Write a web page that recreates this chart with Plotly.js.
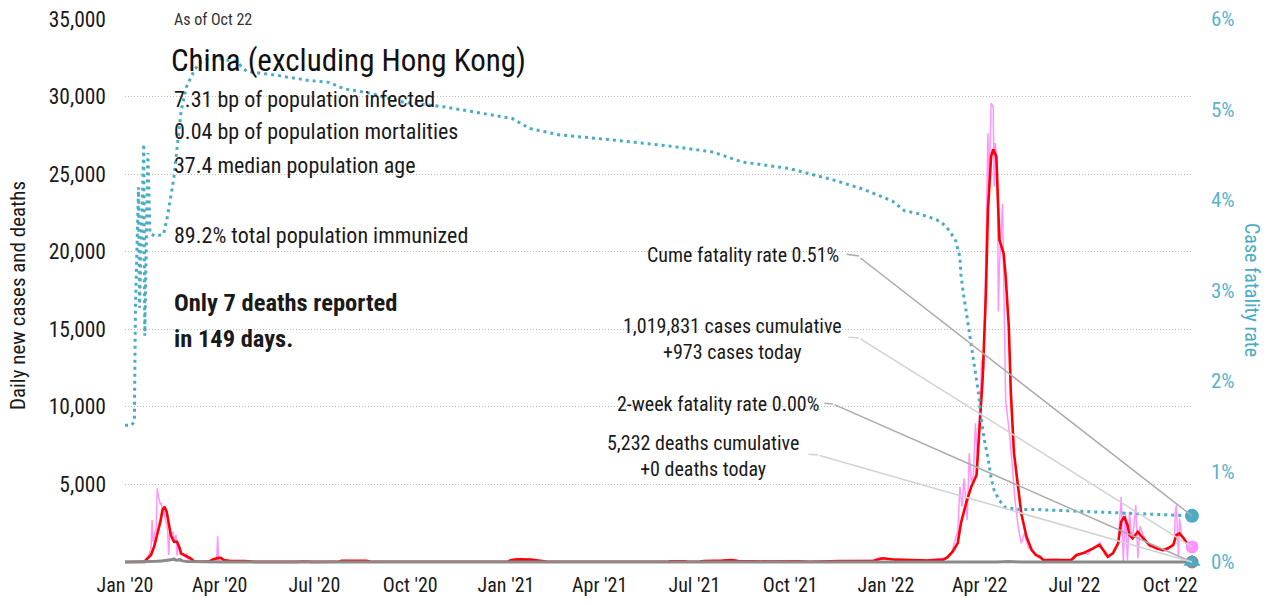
<!DOCTYPE html>
<html><head><meta charset="utf-8">
<script src="https://cdn.plot.ly/plotly-3.0.1.min.js"></script>
<style>html,body{margin:0;padding:0;background:#fff;}#chart{width:1271px;height:605px;}</style>
</head><body><div id="chart"></div>
<script>
// ---------------- DATA ----------------
const endDate = '2022-10-22';
const cumeCfrPct = 0.51;
const twoWeekCfrPct = 0.00;
const casesToday = 973;
const deathsToday = 0;
const cumulativeCases = 1019831;
const cumulativeDeaths = 5232;
const infectedBp = 7.31, mortalityBp = 0.04, medianAge = 37.4, immunizedPct = 89.2;
const recentDeaths = 7, recentDays = 149;

const yTickVals = [5000, 10000, 15000, 20000, 25000, 30000, 35000];
const y2TickVals = [0, 1, 2, 3, 4, 5, 6];
const y2TickText = ['0%', '1%', '2%', '3%', '4%', '5%', '6%'];

// daily new cases (raw)
const caseDates = ['2020-01-01','2020-01-18','2020-01-19','2020-01-20','2020-01-21','2020-01-22','2020-01-23','2020-01-24','2020-01-25','2020-01-26','2020-01-27','2020-01-28','2020-01-29','2020-01-30','2020-01-31',
'2020-02-01','2020-02-02','2020-02-03','2020-02-04','2020-02-05','2020-02-06','2020-02-07','2020-02-08','2020-02-09','2020-02-10','2020-02-11','2020-02-12','2020-02-13','2020-02-14','2020-02-15','2020-02-16','2020-02-17','2020-02-18','2020-02-19','2020-02-20','2020-02-21','2020-02-22','2020-02-23','2020-02-24','2020-02-25','2020-02-26','2020-02-27','2020-02-28','2020-02-29',
'2020-03-01','2020-03-02','2020-03-03','2020-03-04','2020-03-05','2020-03-06','2020-03-07','2020-03-08','2020-03-10','2020-03-14','2020-03-20','2020-03-24','2020-03-28','2020-03-29','2020-03-30','2020-03-31','2020-04-04','2020-04-10','2020-04-12','2020-04-20','2020-05-05',
'2020-06-14','2020-06-18','2020-06-22','2020-06-28','2020-07-24','2020-07-30','2020-08-05','2020-08-20','2020-08-25','2020-10-22','2020-10-26','2020-11-08','2020-11-16',
'2021-01-03','2021-01-07','2021-01-11','2021-01-16','2021-01-22','2021-01-28','2021-02-05','2021-02-10','2021-06-05','2021-06-10','2021-06-22','2021-06-26','2021-07-08','2021-07-20','2021-07-31','2021-08-06','2021-08-14','2021-08-28','2021-09-12','2021-10-08','2021-10-20','2021-11-05','2021-11-18','2021-12-08','2021-12-20','2021-12-26','2021-12-30','2022-01-08','2022-01-20','2022-02-10','2022-02-20','2022-02-28',
'2022-03-03','2022-03-05','2022-03-08','2022-03-11','2022-03-13','2022-03-15','2022-03-17','2022-03-20','2022-03-22','2022-03-24','2022-03-26','2022-03-28','2022-03-30','2022-04-01','2022-04-03','2022-04-05','2022-04-07','2022-04-09','2022-04-10','2022-04-12','2022-04-14','2022-04-15','2022-04-16','2022-04-18','2022-04-19','2022-04-20','2022-04-23','2022-04-24','2022-04-26','2022-04-30','2022-05-03','2022-05-05','2022-05-08','2022-05-11','2022-05-14','2022-05-18','2022-05-22','2022-05-27','2022-06-02','2022-06-12','2022-06-22','2022-06-30',
'2022-07-04','2022-07-09','2022-07-14','2022-07-19','2022-07-23','2022-07-26','2022-07-30','2022-08-03','2022-08-07','2022-08-10','2022-08-12','2022-08-14','2022-08-15','2022-08-17','2022-08-19','2022-08-21','2022-08-23','2022-08-25','2022-08-27','2022-08-29','2022-08-31','2022-09-02','2022-09-06','2022-09-11','2022-09-16','2022-09-21','2022-09-26','2022-09-30','2022-10-03','2022-10-05','2022-10-06','2022-10-07','2022-10-09','2022-10-10','2022-10-12','2022-10-15','2022-10-18','2022-10-20','2022-10-22'];
const caseDaily = [0,0,20,80,150,130,260,450,690,800,2700,1300,1600,2000,2100,
4750,4300,3900,3700,3800,3100,3400,3000,2600,2500,2000,450,2000,1900,1800,1950,1700,1300,1750,400,1250,650,450,550,500,420,430,330,570,
210,200,120,140,140,100,45,40,25,15,40,80,60,45,1650,80,30,90,100,20,10,
10,45,30,10,20,90,80,70,15,15,55,45,15,
30,150,240,190,160,140,60,15,20,55,45,20,30,70,110,130,60,40,30,50,20,40,70,90,120,300,200,160,120,140,200,260,
450,560,1300,2000,4850,3570,5400,2700,7000,5180,5600,8940,6500,9800,13000,12380,19900,27640,23770,29570,29360,24200,27000,25500,16140,19000,23080,18400,10380,8080,5500,4000,2280,1200,1850,900,770,300,150,200,120,150,
450,600,500,900,1100,1250,500,300,600,1000,1100,3780,4200,50,3240,100,3240,1500,2170,3670,250,2300,1600,1000,900,800,700,950,1000,1200,3240,3670,300,2800,1600,1400,1100,1000,973];

// 7-day average of new cases
const avgDates = ['2020-01-01','2020-01-20','2020-01-21','2020-01-26','2020-01-29','2020-02-01','2020-02-04','2020-02-06','2020-02-08','2020-02-10','2020-02-12','2020-02-14','2020-02-17','2020-02-20','2020-02-22','2020-02-24','2020-02-27','2020-03-01','2020-03-04','2020-03-07','2020-03-11','2020-03-22','2020-03-26','2020-03-30','2020-04-02','2020-04-05','2020-04-10','2020-04-25','2020-05-05',
'2020-06-14','2020-06-18','2020-06-22','2020-06-28','2020-07-24','2020-07-27','2020-08-20','2020-08-24','2020-10-22','2020-10-25','2020-11-12','2020-11-16',
'2021-01-03','2021-01-06','2021-01-14','2021-01-25','2021-02-04','2021-02-10','2021-06-05','2021-06-08','2021-06-22','2021-06-25','2021-07-06','2021-07-10','2021-07-28','2021-08-06','2021-08-12','2021-08-28','2021-09-12','2021-10-08','2021-10-20','2021-11-18','2021-12-20','2021-12-29','2022-01-10','2022-02-10','2022-02-25',
'2022-03-01','2022-03-06','2022-03-11','2022-03-14','2022-03-19','2022-03-24','2022-03-29','2022-04-01','2022-04-04','2022-04-07','2022-04-09','2022-04-12','2022-04-14','2022-04-17','2022-04-20','2022-04-24','2022-04-26','2022-04-29','2022-05-01','2022-05-04','2022-05-08','2022-05-11','2022-05-16','2022-05-21','2022-05-25','2022-05-29','2022-06-01','2022-06-28',
'2022-07-03','2022-07-09','2022-07-19','2022-07-25','2022-07-30','2022-08-02','2022-08-07','2022-08-12','2022-08-15','2022-08-18','2022-08-21','2022-08-23','2022-08-26','2022-08-31','2022-09-05','2022-09-11','2022-09-18','2022-09-24','2022-09-29','2022-10-04','2022-10-07','2022-10-10','2022-10-14','2022-10-18','2022-10-22'];
const avgCases = [0,0,130,450,990,1740,2600,3350,3565,3240,2390,1740,1310,1310,990,560,450,340,240,60,20,40,180,250,270,130,80,60,10,
10,40,30,10,20,80,70,15,15,50,45,15,
30,130,170,150,60,15,20,50,45,20,30,60,90,120,60,40,30,50,20,60,80,240,150,100,150,
300,660,1220,2500,3800,4860,5600,8720,11950,17340,22700,26130,26600,26130,20760,19900,18400,15170,10870,7010,4860,3140,1630,770,450,340,130,130,
450,560,880,1100,660,340,560,1200,2600,2920,2390,1740,1530,1950,1530,1100,880,770,880,1100,1740,1850,1530,1100,920];

// daily deaths
const deathDates = ['2020-01-01','2020-01-20','2020-01-25','2020-02-01','2020-02-05','2020-02-10','2020-02-14','2020-02-17','2020-02-19','2020-02-23','2020-02-25','2020-03-01','2020-03-06','2020-03-12','2020-03-20','2020-04-01','2022-04-18','2022-04-22','2022-04-26','2022-04-29','2022-05-04','2022-05-10',endDate];
const deathDaily = [0,0,15,45,70,100,140,200,110,150,70,40,30,10,5,0,0,20,50,40,20,0,deathsToday];

// case fatality rate (%)
const cfrDates = ['2020-01-01','2020-01-07','2020-01-10','2020-01-11','2020-01-14','2020-01-15','2020-01-19','2020-01-20','2020-01-23','2020-01-25','2020-01-30','2020-02-07','2020-02-11','2020-02-13','2020-02-15','2020-02-17','2020-02-19','2020-02-21','2020-02-24','2020-02-29','2020-03-07','2020-03-12','2020-03-19','2020-04-01','2020-04-17','2020-04-27','2020-05-10','2020-05-24','2020-06-26','2020-07-15','2020-07-29','2020-08-23','2020-09-25','2020-11-02','2020-12-08',
'2021-01-07','2021-01-24','2021-02-21','2021-04-17','2021-06-11','2021-07-19','2021-08-16','2021-09-29','2021-11-12','2021-12-10','2021-12-29','2022-01-07','2022-01-19','2022-02-01','2022-02-12','2022-02-23','2022-03-03','2022-03-09','2022-03-13','2022-03-14','2022-03-16','2022-03-19','2022-03-21','2022-03-24','2022-03-27','2022-03-31','2022-04-02','2022-04-05','2022-04-09','2022-04-12','2022-04-15','2022-04-20','2022-04-26','2022-05-09','2022-05-25','2022-08-03','2022-09-05','2022-10-08',endDate];
const cfrPct = [1.51,1.51,1.55,2.80,4.14,2.81,4.62,2.50,4.52,3.63,3.60,3.62,3.83,3.96,4.11,4.25,4.47,4.66,4.99,5.25,5.42,5.51,5.55,5.56,5.53,5.42,5.40,5.38,5.32,5.30,5.23,5.18,5.08,5.03,4.96,
4.90,4.79,4.72,4.66,4.59,4.53,4.42,4.35,4.22,4.12,4.03,3.99,3.88,3.85,3.81,3.76,3.66,3.55,3.37,3.18,3.00,2.78,2.59,2.37,2.15,1.86,1.63,1.38,1.15,0.93,0.79,0.68,0.60,0.58,0.58,0.55,0.53,0.52,cumeCfrPct];

// ---------------- LAYOUT HELPERS ----------------
const FONT = '"Roboto Condensed", Roboto, sans-serif';
const TEAL = '#4aacc5';
const W = 1271, H = 605, ML = 125, MR = 79, MT = 19, MB = 41;
const PW = W - ML - MR, PH = H - MT - MB;
const px = v => (v - ML) / PW;
const py = v => (H - MB - v) / PH;
const fmt = n => n.toLocaleString('en-US');

const traces = [
  {x: caseDates, y: caseDaily, mode: 'lines', line: {color: '#ff94ff', width: 1.5}, hoverinfo: 'skip'},
  {x: avgDates, y: avgCases, mode: 'lines', line: {color: '#ff0000', width: 2.6}, hoverinfo: 'skip'},
  {x: cfrDates, y: cfrPct, yaxis: 'y2', mode: 'lines', line: {color: TEAL, width: 3, dash: '3px,4px'}, hoverinfo: 'skip'},
  {x: deathDates, y: deathDaily, mode: 'lines', line: {color: '#8a8a8a', width: 3}, hoverinfo: 'skip'},
  {x: [endDate], y: [deathsToday], mode: 'markers', marker: {symbol: 'circle', size: 13, color: '#8a8a8a'}, cliponaxis: false, hoverinfo: 'skip'},
  {x: [endDate], y: [casesToday], mode: 'markers', marker: {symbol: 'circle', size: 13, color: '#ff94ff'}, cliponaxis: false, hoverinfo: 'skip'},
  {x: [endDate], y: [cumeCfrPct], yaxis: 'y2', mode: 'markers', marker: {symbol: 'circle', size: 14, color: TEAL}, cliponaxis: false, hoverinfo: 'skip'},
  {x: [endDate], y: [twoWeekCfrPct], yaxis: 'y2', mode: 'markers', marker: {symbol: 'triangle-up', size: 15, color: TEAL}, cliponaxis: false, hoverinfo: 'skip'}
];

const txt = (text, xp, yp, size, opts) => Object.assign({
  text: text, xref: 'paper', yref: 'paper', x: px(xp), y: py(yp), xanchor: 'left', yanchor: 'middle',
  showarrow: false, font: {family: FONT, size: size, color: '#1a1a1a'}
}, opts || {});

// diagonal leader from a kink point to the end marker
const connector = (yref, yval, ax, ay, color) => ({
  text: '', xref: 'x', yref: yref, x: endDate, y: yval, ax: ax, ay: ay,
  showarrow: true, arrowhead: 0, arrowwidth: 1.5, arrowcolor: color, standoff: 0, startstandoff: 0
});
// short near-horizontal stub from the label end to the kink point
const stub = (kx, ky, lx, ly, color) => ({
  text: '', xref: 'paper', yref: 'paper', x: px(kx), y: py(ky), ax: lx - kx, ay: ly - ky,
  showarrow: true, arrowhead: 0, arrowwidth: 1.5, arrowcolor: color, standoff: 0, startstandoff: 0
});

const DARK = '#ababab', LIGHT = '#d2d2d2';
const annotations = [
  txt('As of Oct 22', 172, 19, 16, {font: {family: FONT, size: 16, color: '#333'}}),
  txt(infectedBp.toFixed(2) + ' bp of population infected', 172, 99, 22),
  txt(mortalityBp.toFixed(2) + ' bp of population mortalities', 172, 132, 22),
  txt(medianAge.toFixed(1) + ' median population age', 172, 166, 22),
  txt(immunizedPct.toFixed(1) + '% total population immunized', 172, 236, 22),
  txt('<b>Only ' + recentDeaths + ' deaths reported</b>', 172, 302, 24.5),
  txt('<b>in ' + recentDays + ' days.</b>', 172, 338, 24.5),
  txt('Cume fatality rate ' + cumeCfrPct.toFixed(2) + '%', 841, 255, 20, {xanchor: 'right'}),
  txt(fmt(cumulativeCases) + ' cases cumulative<br>+' + fmt(casesToday) + ' cases today', 844, 339, 20, {xanchor: 'right'}),
  txt('2-week fatality rate ' + twoWeekCfrPct.toFixed(2) + '%', 821, 404, 20, {xanchor: 'right'}),
  txt(fmt(cumulativeDeaths) + ' deaths cumulative<br>+' + deathsToday + ' deaths today', 801, 456, 20, {xanchor: 'right'}),
  stub(859, 256, 845, 254, DARK),
  connector('y2', cumeCfrPct, -333, -259, DARK),
  stub(859, 338, 847, 337, LIGHT),
  connector('y', casesToday, -333, -209, LIGHT),
  stub(833, 404, 823, 403, DARK),
  connector('y2', twoWeekCfrPct, -359, -158, DARK),
  stub(818, 455, 807, 454, LIGHT),
  connector('y', deathsToday, -374, -107, LIGHT),
  txt('Daily new cases and deaths', 18, 296, 21, {xanchor: 'center', textangle: -90}),
  txt('Case fatality rate', 1252, 290, 20, {xanchor: 'center', textangle: 90, font: {family: FONT, size: 20, color: TEAL}})
];

const layout = {
  width: W, height: H,
  margin: {l: ML, r: MR, t: MT, b: MB, pad: 0},
  paper_bgcolor: '#fff', plot_bgcolor: '#fff',
  showlegend: false,
  font: {family: FONT, color: '#1a1a1a'},
  title: {text: 'China (excluding Hong Kong)', font: {family: FONT, size: 31, color: '#111'},
          xref: 'paper', yref: 'paper', x: px(171), y: py(60), xanchor: 'left', yanchor: 'middle'},
  xaxis: {type: 'date', range: ['2020-01-01', endDate], tick0: '2020-01-01', dtick: 'M3', tickformat: "%b '%y",
          showgrid: false, zeroline: false, showline: false, ticks: '', ticklabelstandoff: 7,
          tickfont: {family: FONT, size: 20, color: '#1a1a1a'}},
  yaxis: {range: [-128.9, 35000], tickvals: yTickVals, tickformat: ',d', showgrid: true, gridcolor: '#bdbdbd',
          griddash: '1px,2px', gridwidth: 1, zeroline: false, showline: false, ticks: '', ticklabelstandoff: 18,
          tickfont: {family: FONT, size: 21.5, color: '#1a1a1a'}},
  yaxis2: {range: [-0.022, 6], tickvals: y2TickVals, ticktext: y2TickText, overlaying: 'y', side: 'right',
           showgrid: false, zeroline: false, showline: false, ticks: '', ticklabelstandoff: 18,
           tickfont: {family: FONT, size: 21, color: '#5ab3cb'}},
  annotations: annotations
};

Plotly.newPlot('chart', traces, layout, {displayModeBar: false, staticPlot: true});
</script></body></html>
